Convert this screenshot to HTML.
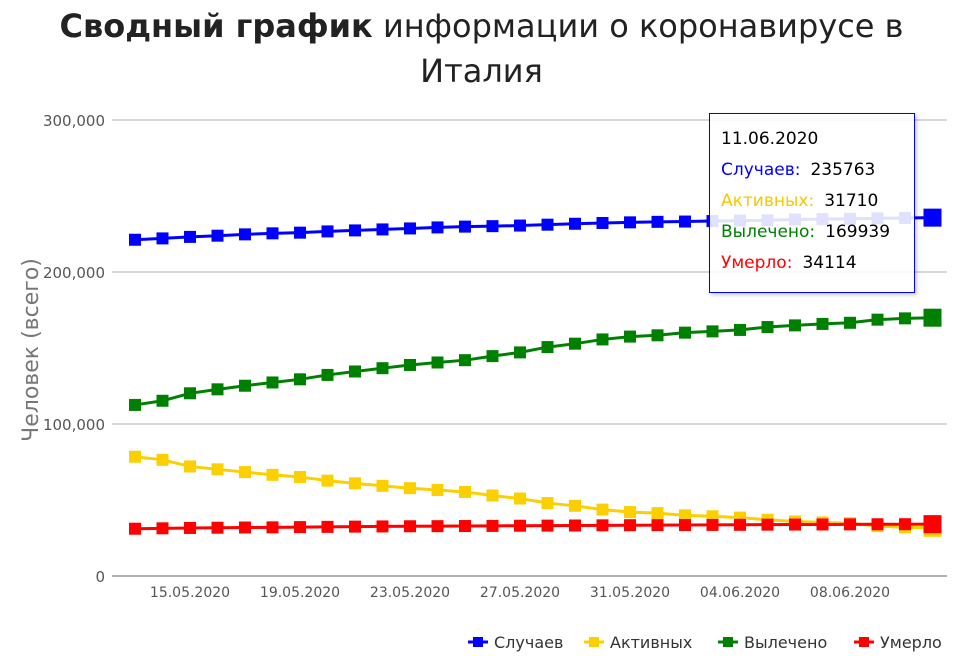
<!DOCTYPE html>
<html><head><meta charset="utf-8"><style>
body{margin:0;background:#fff;font-family:"DejaVu Sans","Liberation Sans",sans-serif;}
#wrap{position:relative;width:963px;height:656px;overflow:hidden}
#title{position:absolute;top:4px;left:0;width:963px;text-align:center;font-size:32px;line-height:45px;color:#222}
#tip{position:absolute;left:709px;top:113px;width:206px;height:180px;border:1px solid #00f;background:rgba(255,255,255,0.88);box-shadow:2px 2px 4px rgba(0,0,0,0.2);font-size:17px;box-sizing:border-box;padding:10px 0 0 11px;line-height:31px}
#tip b{font-weight:normal;color:#000;margin-left:10px}
</style></head><body>
<div id="wrap">
<div id="title"><b>Сводный график</b> информации о коронавирусе в<br>Италия</div>
<svg id="svg" width="963" height="656" style="position:absolute;left:0;top:0"></svg>
<div id="tip">
<div>11.06.2020</div>
<div style="color:#00f">Случаев:<b>235763</b></div>
<div style="color:#f5c800">Активных:<b>31710</b></div>
<div style="color:#008000">Вылечено:<b>169939</b></div>
<div style="color:#f00">Умерло:<b>34114</b></div>
</div>
</div>
<script>
const dates=["13.05.2020","14.05.2020","15.05.2020","16.05.2020","17.05.2020","18.05.2020","19.05.2020","20.05.2020","21.05.2020","22.05.2020","23.05.2020","24.05.2020","25.05.2020","26.05.2020","27.05.2020","28.05.2020","29.05.2020","30.05.2020","31.05.2020","01.06.2020","02.06.2020","03.06.2020","04.06.2020","05.06.2020","06.06.2020","07.06.2020","08.06.2020","09.06.2020","10.06.2020","11.06.2020"];
const cases=[221216,222104,223096,223885,224760,225435,225886,226699,227364,228006,228658,229327,229858,230158,230555,231139,231732,232248,232664,232997,233197,233515,233836,234013,234531,234801,234998,235278,235561,235763];
const active=[78457,76440,72070,70187,68351,66553,65129,62752,60960,59322,57752,56594,55300,52942,50966,47986,46175,43691,42075,41367,39893,39297,38429,36976,35877,35262,34730,32872,32000,31710];
const recovered=[112541,115288,120205,122810,125176,127326,129401,132282,134560,136720,138840,140479,141981,144658,147101,150604,152844,155633,157507,158355,160092,160938,161895,163781,164894,165837,166584,168646,169500,169939];
const deaths=[31106,31368,31610,31763,31908,32007,32169,32330,32486,32616,32735,32785,32877,32955,33072,33142,33229,33340,33415,33475,33530,33601,33689,33774,33846,33899,33964,34043,34080,34114];
const yTicks=[0,100000,200000,300000];
const xLabelIdx=[2,6,10,14,18,22,26];
const NS="http://www.w3.org/2000/svg",svg=document.getElementById('svg');
const x0=135,x1=932.5,yb=576,yt=120;
const xS=i=>x0+(x1-x0)*i/(dates.length-1);
const yS=v=>yb-(yb-yt)*v/300000;
function mk(t,a,p){const e=document.createElementNS(NS,t);for(const k in a)e.setAttribute(k,a[k]);(p||svg).appendChild(e);return e;}
yTicks.forEach(v=>{
const l=mk('line',{x1:112,x2:947,y1:yS(v),y2:yS(v),stroke:v?'#ccc':'#999','stroke-width':1.5});


const t=mk('text',{x:105,y:yS(v)+6,'text-anchor':'end','font-size':15,fill:'#555','font-family':'DejaVu Sans, sans-serif'});
t.textContent=v.toLocaleString('en-US');


});
xLabelIdx.forEach(i=>{
const t=mk('text',{x:xS(i),y:597,'text-anchor':'middle','font-size':14,fill:'#555','font-family':'DejaVu Sans, sans-serif'});
t.textContent=dates[i];


});
const yt2=mk('text',{x:0,y:0,transform:'translate(38,350) rotate(-90)','text-anchor':'middle','font-size':22,fill:'#777','font-family':'DejaVu Sans, sans-serif'});
yt2.textContent='Человек (всего)';


const series=[["cases",cases,"#0000ff","Случаев"],["active",active,"#fcd000","Активных"],["recovered",recovered,"#008000","Вылечено"],["deaths",deaths,"#ff0000","Умерло"]];
series.forEach(([n,d,c])=>{
const p=mk('polyline',{points:d.map((v,i)=>xS(i)+','+yS(v)).join(' '),fill:'none',stroke:c,'stroke-width':3});


d.forEach((v,i)=>{const s=i==d.length-1?18:12;
const r=mk('rect',{x:xS(i)-s/2,y:yS(v)-s/2,width:s,height:s,fill:c});

});
});
let lx=468;
series.forEach(([n,d,c,label],k)=>{
const g=mk('g',{});


mk('line',{x1:lx,x2:lx+20,y1:642,y2:642,stroke:c,'stroke-width':3},g);
mk('rect',{x:lx+5,y:637,width:10,height:10,fill:c},g);
const t=mk('text',{x:lx+26,y:648,'font-size':16,fill:'#333','font-family':'DejaVu Sans, sans-serif'},g);
t.textContent=label;
lx+=[116,134,136][k]||0;
});
</script>
</body></html>
